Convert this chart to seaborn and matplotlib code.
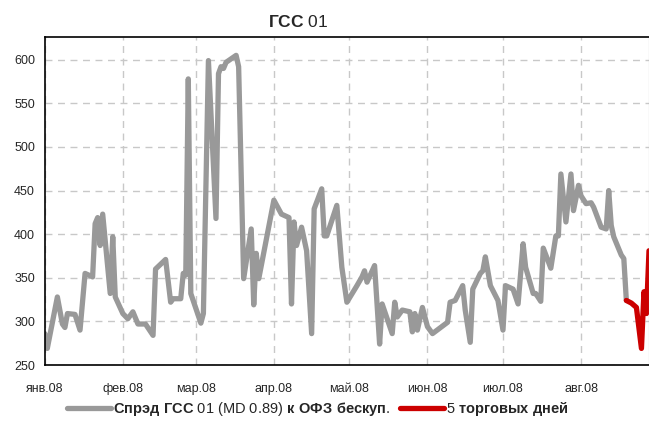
import pandas as pd
import matplotlib.pyplot as plt
import seaborn as sns

# Spread values, bp; days counted from 1 Jan 2008
days = [0, 1, 5, 7, 8, 9, 12, 14, 16, 19, 20, 21, 22, 23, 26, 27, 28, 31, 33, 35,
        37, 40, 43, 44, 48, 50, 51, 54, 55, 56, 57, 58, 62, 63, 65, 68, 69, 70, 71, 72,
        76, 77, 79, 82, 83, 84, 85, 91, 94, 97, 98, 99, 100, 102, 104, 106, 107, 110, 111, 112,
        116, 118, 120, 124, 126, 127, 128, 131, 133, 134, 138, 139, 140, 142, 145, 146, 147, 148, 150, 152,
        154, 160, 161, 163, 166, 167, 169, 170, 173, 174, 175, 177, 180, 182, 183, 186, 188, 190, 191, 194,
        195, 197, 198, 201, 203, 204, 205, 207, 209, 210, 212, 213, 215, 217, 218, 221, 223, 224, 225, 226,
        229, 230, 231]
spread = [286, 269, 328, 297, 293, 309, 308, 290, 355, 351, 412, 419, 387, 423, 332, 397, 328, 309, 303, 311,
          297, 297, 284, 360, 371, 322, 326, 326, 355, 353, 578, 332, 298, 309, 599, 418, 584, 592, 590, 597,
          605, 592, 349, 406, 319, 378, 349, 439, 423, 419, 320, 414, 387, 408, 381, 286, 429, 452, 398, 398,
          433, 362, 322, 341, 351, 358, 345, 364, 274, 320, 286, 322, 305, 313, 311, 288, 309, 290, 316, 294,
          286, 299, 322, 324, 341, 313, 276, 337, 355, 358, 374, 341, 324, 290, 341, 337, 320, 389, 362, 332,
          332, 323, 384, 361, 398, 398, 469, 414, 469, 427, 456, 444, 435, 436, 431, 408, 406, 450, 410, 397,
          376, 372, 324]

# last 5 trading days
red_days = [231, 233, 235, 237, 238, 239, 240]
red_spread = [324, 321, 316, 269, 334, 309, 381]

month_labels = ['янв.08', 'фев.08', 'мар.08', 'апр.08', 'май.08', 'июн.08', 'июл.08', 'авг.08']
month_starts = ['2008-01-01', '2008-02-01', '2008-03-01', '2008-04-01',
                '2008-05-01', '2008-06-01', '2008-07-01', '2008-08-01']
y_ticks = [250, 300, 350, 400, 450, 500, 550, 600]

start = pd.Timestamp('2008-01-01')
main_df = pd.DataFrame({'date': start + pd.to_timedelta(days, unit='D'), 'spread': spread})
red_df = pd.DataFrame({'date': start + pd.to_timedelta(red_days, unit='D'), 'spread': red_spread})

sns.set_style('white')
plt.rcParams['font.family'] = ['Liberation Sans', 'DejaVu Sans']
plt.rcParams['mathtext.fontset'] = 'custom'
plt.rcParams['mathtext.rm'] = 'Liberation Sans'
plt.rcParams['mathtext.bf'] = 'Liberation Sans:bold'

fig, ax = plt.subplots(figsize=(6.49, 4.21), dpi=100)
fig.subplots_adjust(left=0.069, right=1.0, bottom=0.133, top=0.912)

sns.lineplot(data=main_df, x='date', y='spread', ax=ax, color='#999999', linewidth=3.8,
             solid_joinstyle='round',
             label=r'$\mathbf{Спрэд\ ГСС}$ 01 (MD 0.89) $\mathbf{к\ ОФЗ\ бескуп}$.')
sns.lineplot(data=red_df, x='date', y='spread', ax=ax, color='#cc0000', linewidth=3.8,
             solid_joinstyle='round', label=r'5 $\mathbf{торговых\ дней}$')

ax.set_xlim(start, start + pd.Timedelta(days=240))
ax.set_ylim(250, 626)
ax.set_yticks(y_ticks)
ax.set_xticks(pd.to_datetime(month_starts))
ax.set_xticklabels(month_labels)
ax.tick_params(axis='both', direction='out', length=4, width=1, color='black',
               labelsize=9, pad=3)
ax.tick_params(axis='x', pad=9)
ax.set_xlabel('')
ax.set_ylabel('')

ax.grid(True, linestyle=(0, (5, 4)), color='#c8c8c8', linewidth=1)
for side in ['left', 'bottom', 'top']:
    ax.spines[side].set_color('black')
    ax.spines[side].set_linewidth(1.2)
ax.spines['right'].set_color('#999999')

ax.set_title(r'$\mathbf{ГСС}$ 01', fontsize=12.5, x=0.42, pad=7)

ax.legend(loc='center', bbox_to_anchor=(0.49, 0.028), bbox_transform=fig.transFigure,
          ncol=2, frameon=False, handlelength=3.0, handletextpad=0.15, columnspacing=0.7,
          fontsize=10.5)

plt.savefig('out.png', dpi=100)
plt.close()
